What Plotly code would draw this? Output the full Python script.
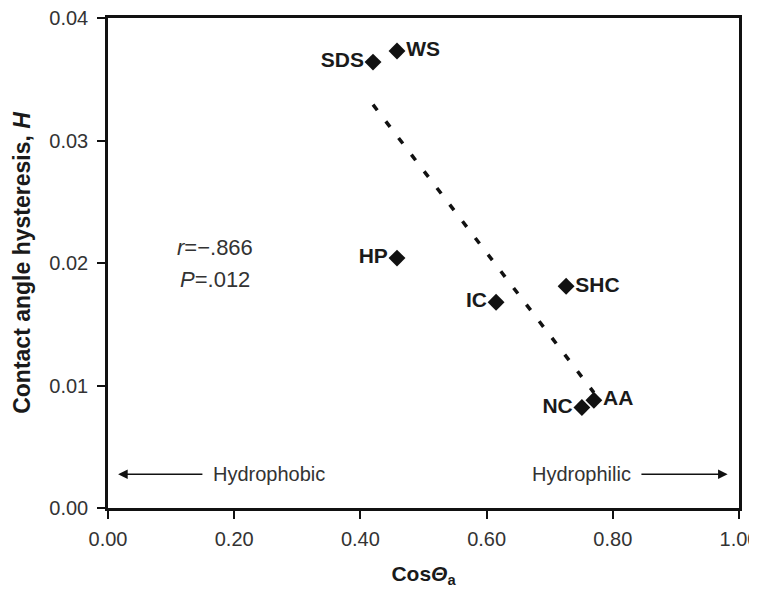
import numpy as np
import plotly.graph_objects as go

labels = ["SDS", "WS", "HP", "IC", "SHC", "NC", "AA"]
cos_theta = [0.420, 0.458, 0.458, 0.615, 0.726, 0.751, 0.770]
hysteresis = [0.0364, 0.0373, 0.0204, 0.0168, 0.0181, 0.0082, 0.0088]
label_pos = ["middle left", "middle right", "middle left", "middle left",
             "middle right", "middle left", "middle right"]
x_ticks = [0.0, 0.2, 0.4, 0.6, 0.8, 1.0]
y_ticks = [0.0, 0.01, 0.02, 0.03, 0.04]

slope, intercept = np.polyfit(cos_theta, hysteresis, 1)
fit_x = [min(cos_theta), max(cos_theta)]
fit_y = [slope * v + intercept for v in fit_x]

font = "Liberation Sans, Arial, sans-serif"
fig = go.Figure()
fig.add_trace(go.Scatter(x=fit_x, y=fit_y, mode="lines",
                         line=dict(color="#111", width=3.5, dash="7px,14px"),
                         showlegend=False, hoverinfo="skip"))
fig.add_trace(go.Scatter(x=cos_theta, y=hysteresis, mode="markers+text",
                         text=[f"<b>{t}</b>" for t in labels],
                         textposition=label_pos,
                         textfont=dict(family=font, size=21, color="#1a1a1a"),
                         marker=dict(symbol="diamond", size=13, color="#111"),
                         showlegend=False))

ann = [
    dict(x=0.17, y=0.02125, text="<i>r</i>=−.866", showarrow=False,
         font=dict(family=font, size=22, color="#333")),
    dict(x=0.17, y=0.01867, text="<i>P</i>=.012", showarrow=False,
         font=dict(family=font, size=22, color="#333")),
    dict(x=0.016, y=0.00275, ax=0.152, ay=0.00275, axref="x", ayref="y",
         xref="x", yref="y", text="", showarrow=True, arrowhead=2,
         arrowsize=1.2, arrowwidth=1.6, arrowcolor="#111"),
    dict(x=0.164, y=0.00275, text="Hydrophobic", showarrow=False, xanchor="left",
         font=dict(family=font, size=20, color="#333")),
    dict(x=0.982, y=0.00275, ax=0.843, ay=0.00275, axref="x", ayref="y",
         xref="x", yref="y", text="", showarrow=True, arrowhead=2,
         arrowsize=1.2, arrowwidth=1.6, arrowcolor="#111"),
    dict(x=0.832, y=0.00275, text="Hydrophilic", showarrow=False, xanchor="right",
         font=dict(family=font, size=20, color="#333")),
]
fig.update_layout(
    width=757, height=596,
    margin=dict(l=100, r=26, t=10, b=96),
    plot_bgcolor="white", paper_bgcolor="white",
    annotations=ann,
    font=dict(family=font, size=20, color="#333"),
)
fig.update_xaxes(range=[0, 1], tickvals=x_ticks,
                 ticktext=[f"{v:.2f}" for v in x_ticks],
                 automargin=False,
                 showgrid=False, zeroline=False, showline=True, linecolor="#111",
                 linewidth=2.5, mirror=True, ticks="outside", ticklen=8,
                 tickwidth=1.5, tickcolor="#111", ticklabelstandoff=3,
                 ticklabeloverflow="allow",
                 tickfont=dict(family=font, size=20, color="#333"),
                 title=dict(text="<b>Cos<i>Θ</i><sub>a</sub></b>",
                            font=dict(family=font, size=21, color="#1a1a1a"),
                            standoff=18))
fig.update_yaxes(range=[0, 0.04], tickvals=y_ticks,
                 ticktext=[f"{v:.2f}" for v in y_ticks],
                 automargin=False,
                 showgrid=False, zeroline=False, showline=True, linecolor="#111",
                 linewidth=2.5, mirror=True, ticks="outside", ticklen=8,
                 tickwidth=1.5, tickcolor="#111", ticklabelstandoff=5,
                 ticklabeloverflow="allow",
                 tickfont=dict(family=font, size=20, color="#333"),
                 title=dict(text="<b>Contact angle hysteresis, <i>H</i></b>",
                            font=dict(family=font, size=23, color="#1a1a1a"),
                            standoff=13))
fig.write_html("out.html")
